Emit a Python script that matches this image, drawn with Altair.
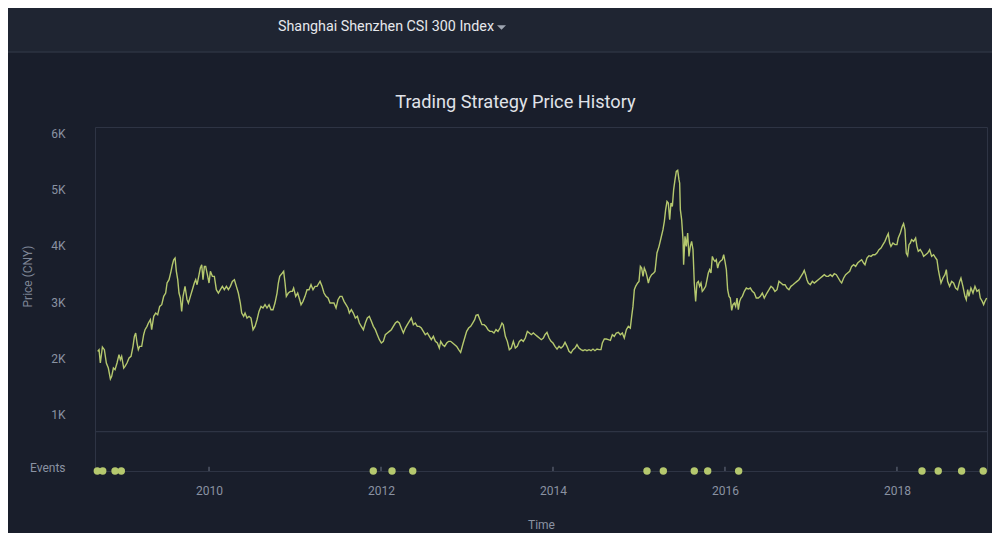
import altair as alt
import pandas as pd

# ---------------- data ----------------
header_label = "Shanghai Shenzhen CSI 300 Index"
chart_title = "Trading Strategy Price History"

# (decimal year, index level in CNY)
price_history = [
    (2008.705, 2125), (2008.721, 2155), (2008.736, 1918), (2008.760, 2202), (2008.783, 2155),
    (2008.806, 1918), (2008.829, 1829), (2008.853, 1634), (2008.868, 1681), (2008.888, 1829),
    (2008.907, 1799), (2008.930, 1918), (2008.953, 2066), (2008.969, 1977), (2008.984, 2036),
    (2009.008, 1829), (2009.023, 1859), (2009.046, 1918), (2009.070, 2007), (2009.093, 2036),
    (2009.116, 2214), (2009.132, 2391), (2009.147, 2451), (2009.163, 2273), (2009.178, 2155),
    (2009.194, 2214), (2009.217, 2214), (2009.240, 2421), (2009.256, 2510), (2009.279, 2569),
    (2009.295, 2628), (2009.318, 2687), (2009.333, 2510), (2009.357, 2747), (2009.380, 2806),
    (2009.403, 2776), (2009.426, 2924), (2009.450, 2954), (2009.473, 3102), (2009.496, 3161),
    (2009.512, 3339), (2009.535, 3398), (2009.558, 3546), (2009.574, 3664), (2009.589, 3753),
    (2009.605, 3783), (2009.620, 3546), (2009.636, 3398), (2009.651, 3161), (2009.667, 3072),
    (2009.682, 2835), (2009.698, 3102), (2009.721, 3280), (2009.744, 3043), (2009.760, 2983),
    (2009.783, 3102), (2009.806, 3220), (2009.829, 3339), (2009.845, 3398), (2009.861, 3309),
    (2009.884, 3487), (2009.899, 3605), (2009.915, 3664), (2009.930, 3398), (2009.946, 3635),
    (2009.961, 3635), (2009.985, 3457), (2010.000, 3339), (2010.016, 3546), (2010.039, 3457),
    (2010.062, 3457), (2010.085, 3220), (2010.109, 3161), (2010.132, 3220), (2010.155, 3280),
    (2010.178, 3220), (2010.202, 3280), (2010.225, 3220), (2010.248, 3280), (2010.271, 3368),
    (2010.295, 3398), (2010.318, 3280), (2010.341, 3161), (2010.364, 2983), (2010.380, 2806),
    (2010.403, 2747), (2010.419, 2806), (2010.442, 2717), (2010.465, 2747), (2010.488, 2717),
    (2010.512, 2510), (2010.535, 2569), (2010.558, 2687), (2010.581, 2835), (2010.605, 2924),
    (2010.628, 2895), (2010.651, 2954), (2010.674, 2895), (2010.698, 2954), (2010.721, 2865),
    (2010.744, 2865), (2010.767, 2983), (2010.791, 3161), (2010.806, 3339), (2010.822, 3457),
    (2010.837, 3487), (2010.853, 3516), (2010.868, 3546), (2010.884, 3339), (2010.899, 3102),
    (2010.922, 3161), (2010.946, 3191), (2010.969, 3191), (2010.984, 3250), (2011.008, 3102),
    (2011.031, 3161), (2011.054, 3043), (2011.070, 2954), (2011.093, 3013), (2011.116, 3102),
    (2011.140, 3220), (2011.163, 3220), (2011.186, 3309), (2011.209, 3220), (2011.233, 3280),
    (2011.256, 3280), (2011.279, 3339),
    (2011.291, 3368), (2011.314, 3280), (2011.337, 3161), (2011.360, 3102), (2011.384, 3072),
    (2011.407, 2983), (2011.430, 2983), (2011.453, 2983), (2011.477, 2895), (2011.500, 3043),
    (2011.523, 3102), (2011.546, 3102), (2011.570, 3013), (2011.593, 2954), (2011.616, 2895),
    (2011.632, 2806), (2011.655, 2865), (2011.678, 2806), (2011.702, 2717), (2011.725, 2747),
    (2011.748, 2628), (2011.771, 2569), (2011.795, 2510), (2011.818, 2628), (2011.841, 2717),
    (2011.864, 2747), (2011.888, 2658), (2011.911, 2569), (2011.934, 2510), (2011.957, 2421),
    (2011.981, 2332), (2012.004, 2273), (2012.027, 2303), (2012.050, 2421), (2012.074, 2451),
    (2012.097, 2480), (2012.120, 2510), (2012.143, 2569), (2012.167, 2628), (2012.190, 2658),
    (2012.213, 2628), (2012.236, 2539), (2012.260, 2451), (2012.283, 2539), (2012.306, 2599),
    (2012.329, 2658), (2012.353, 2717), (2012.376, 2599), (2012.399, 2628), (2012.422, 2569),
    (2012.446, 2569), (2012.469, 2539), (2012.492, 2480), (2012.515, 2421), (2012.539, 2451),
    (2012.562, 2391), (2012.585, 2332), (2012.609, 2391), (2012.632, 2303), (2012.655, 2273),
    (2012.678, 2184), (2012.694, 2303), (2012.717, 2243), (2012.740, 2214), (2012.764, 2273),
    (2012.787, 2303), (2012.810, 2303), (2012.833, 2273), (2012.857, 2243), (2012.880, 2214),
    (2012.903, 2155), (2012.926, 2107), (2012.950, 2243), (2012.973, 2362), (2012.996, 2480),
    (2013.019, 2539), (2013.043, 2569), (2013.066, 2628), (2013.089, 2687), (2013.105, 2764),
    (2013.128, 2776), (2013.151, 2687), (2013.174, 2599), (2013.198, 2599), (2013.221, 2569),
    (2013.244, 2510), (2013.267, 2480), (2013.291, 2480), (2013.314, 2451), (2013.337, 2510),
    (2013.360, 2480), (2013.384, 2539), (2013.407, 2628), (2013.422, 2599), (2013.446, 2391),
    (2013.469, 2303), (2013.492, 2155), (2013.515, 2184), (2013.539, 2303), (2013.562, 2184),
    (2013.585, 2214), (2013.609, 2303), (2013.632, 2332), (2013.655, 2303), (2013.678, 2362),
    (2013.702, 2480), (2013.725, 2451), (2013.748, 2421), (2013.771, 2451), (2013.795, 2421),
    (2013.818, 2391), (2013.841, 2362), (2013.864, 2332), (2013.888, 2362),
    (2013.907, 2421), (2013.930, 2462), (2013.954, 2362), (2013.977, 2303), (2014.000, 2273),
    (2014.023, 2214), (2014.047, 2166), (2014.070, 2214), (2014.093, 2184), (2014.116, 2214),
    (2014.140, 2285), (2014.163, 2214), (2014.186, 2125), (2014.209, 2095), (2014.233, 2155),
    (2014.256, 2184), (2014.279, 2243), (2014.302, 2184), (2014.326, 2155), (2014.349, 2137),
    (2014.372, 2155), (2014.395, 2137), (2014.419, 2155), (2014.442, 2137), (2014.465, 2166),
    (2014.488, 2137), (2014.512, 2166), (2014.535, 2155), (2014.558, 2155), (2014.574, 2273),
    (2014.597, 2344), (2014.620, 2344), (2014.643, 2332), (2014.667, 2320), (2014.690, 2421),
    (2014.713, 2391), (2014.736, 2451), (2014.760, 2462), (2014.783, 2421), (2014.806, 2451),
    (2014.829, 2362), (2014.853, 2510), (2014.876, 2569), (2014.899, 2539), (2014.915, 2747),
    (2014.930, 2924), (2014.946, 3220), (2014.961, 3280), (2014.984, 3339), (2015.000, 3368),
    (2015.016, 3635), (2015.031, 3605), (2015.047, 3457), (2015.062, 3605), (2015.078, 3546),
    (2015.093, 3457), (2015.109, 3339), (2015.124, 3428), (2015.147, 3487), (2015.171, 3516),
    (2015.186, 3546), (2015.209, 3872), (2015.233, 3990), (2015.256, 4138), (2015.279, 4286),
    (2015.295, 4434), (2015.310, 4641), (2015.326, 4789), (2015.341, 4760), (2015.357, 4464),
    (2015.372, 4760), (2015.388, 4700), (2015.403, 4997), (2015.419, 5174), (2015.434, 5322),
    (2015.450, 5340), (2015.465, 5174), (2015.473, 5115), (2015.481, 4641), (2015.496, 4464),
    (2015.512, 4108), (2015.519, 3664), (2015.535, 4168), (2015.550, 3990), (2015.566, 4227),
    (2015.581, 3812), (2015.597, 3990), (2015.612, 4079), (2015.628, 3931), (2015.643, 3339),
    (2015.659, 3013), (2015.674, 3339), (2015.690, 3368), (2015.705, 3280), (2015.721, 3339),
    (2015.736, 3191), (2015.752, 3220), (2015.775, 3280), (2015.791, 3398), (2015.806, 3516),
    (2015.822, 3576), (2015.837, 3516), (2015.853, 3812), (2015.868, 3753), (2015.884, 3724),
    (2015.899, 3753), (2015.915, 3605), (2015.930, 3694), (2015.946, 3724), (2015.969, 3753),
    (2015.985, 3842), (2016.000, 3724), (2016.016, 3576), (2016.031, 3220), (2016.047, 3102),
    (2016.062, 3072), (2016.078, 2853), (2016.093, 2954), (2016.109, 2983), (2016.124, 2924),
    (2016.140, 3072), (2016.155, 2865), (2016.171, 3013), (2016.186, 3072), (2016.202, 3102),
    (2016.225, 3191), (2016.248, 3250), (2016.271, 3232), (2016.295, 3250), (2016.318, 3191),
    (2016.341, 3161), (2016.364, 3072), (2016.388, 3072), (2016.411, 3102), (2016.434, 3161),
    (2016.457, 3072),
    (2016.488, 3161), (2016.512, 3220), (2016.535, 3280), (2016.558, 3250), (2016.581, 3191),
    (2016.605, 3220), (2016.628, 3368), (2016.651, 3339), (2016.674, 3309), (2016.698, 3309),
    (2016.721, 3250), (2016.744, 3220), (2016.767, 3280), (2016.791, 3309), (2016.814, 3339),
    (2016.837, 3368), (2016.860, 3398), (2016.884, 3457), (2016.907, 3516), (2016.922, 3564),
    (2016.938, 3487), (2016.953, 3398), (2016.969, 3339), (2016.992, 3309), (2017.016, 3368),
    (2017.039, 3339), (2017.062, 3368), (2017.085, 3398), (2017.109, 3428), (2017.132, 3457),
    (2017.155, 3487), (2017.178, 3457), (2017.202, 3457), (2017.225, 3487), (2017.248, 3457),
    (2017.271, 3504), (2017.295, 3487), (2017.318, 3428), (2017.341, 3368), (2017.357, 3339),
    (2017.380, 3428), (2017.403, 3487), (2017.426, 3516), (2017.450, 3546), (2017.473, 3635),
    (2017.496, 3664), (2017.519, 3635), (2017.543, 3694), (2017.566, 3724), (2017.589, 3753),
    (2017.612, 3694), (2017.628, 3664), (2017.651, 3783), (2017.674, 3824), (2017.698, 3812),
    (2017.721, 3842), (2017.744, 3842), (2017.767, 3872), (2017.791, 3931), (2017.814, 3960),
    (2017.837, 4020), (2017.860, 4079), (2017.884, 4168), (2017.899, 4215), (2017.915, 4049),
    (2017.930, 3990), (2017.953, 4049), (2017.977, 4020), (2018.000, 4020), (2018.015, 4138),
    (2018.039, 4227), (2018.062, 4345), (2018.077, 4393), (2018.093, 4286), (2018.108, 3872),
    (2018.124, 3824), (2018.140, 4020), (2018.155, 4049), (2018.170, 4108), (2018.194, 4079),
    (2018.217, 4138), (2018.232, 3990), (2018.248, 3901), (2018.271, 3931), (2018.295, 3872),
    (2018.310, 3812), (2018.333, 3842), (2018.357, 3872), (2018.380, 3931), (2018.403, 3812),
    (2018.426, 3842), (2018.450, 3783), (2018.465, 3753), (2018.481, 3576), (2018.496, 3457),
    (2018.512, 3339), (2018.535, 3428), (2018.558, 3487), (2018.574, 3576), (2018.589, 3368),
    (2018.612, 3280), (2018.636, 3368), (2018.659, 3339), (2018.682, 3250), (2018.705, 3220),
    (2018.729, 3368), (2018.744, 3428), (2018.767, 3280), (2018.791, 3102), (2018.806, 3043),
    (2018.822, 3220), (2018.837, 3102), (2018.860, 3250), (2018.884, 3161), (2018.907, 3280),
    (2018.930, 3191), (2018.953, 3220), (2018.969, 3072), (2018.992, 3013), (2019.008, 2954),
    (2019.023, 3013), (2019.043, 3072),
]

# trading events (decimal year)
event_times = [2008.701, 2008.764, 2008.907, 2008.980, 2011.910, 2012.128, 2012.369,
               2015.093, 2015.283, 2015.643, 2015.799, 2016.159, 2018.291, 2018.480,
               2018.752, 2019.003]

year_ticks = [2010, 2012, 2014, 2016, 2018]
price_ticks = [1000, 2000, 3000, 4000, 5000, 6000]
events_row_value = 0          # events sit on the time axis line
events_label_value = 70       # where the "Events" row label is written
separator_value = 700         # lower edge of the price panel
tick_height_value = 75        # small year ticks on the events line
x_domain = [2008.674, 2019.047]
y_domain = [0, 6110]

# ---------------- styling ----------------
BG = "#191e2b"
HEADER_BG = "#1f2532"
HEADER_BORDER = "#2c3342"
FRAME = "#2e3444"
LINE = "#b5c86e"
LABEL = "#8a92a2"
TITLE = "#e0e3e9"
FONT = "Roboto"
CARET_PATH = "M-1,-0.5L1,-0.5L0,0.5Z"

price_df = pd.DataFrame(price_history, columns=["t", "v"])
events_df = pd.DataFrame({"t": event_times, "v": [events_row_value] * len(event_times)})
ticks_df = pd.DataFrame({"t": year_ticks, "v": [events_row_value] * len(year_ticks),
                         "v2": [tick_height_value] * len(year_ticks)})
sep_df = pd.DataFrame({"v": [separator_value]})
text_df = pd.DataFrame({"label": [header_label], "title": [chart_title]})

x_enc = alt.X(
    "t:Q",
    scale=alt.Scale(domain=x_domain, nice=False, zero=False),
    axis=alt.Axis(
        title="Time", values=year_ticks, format="d", grid=False, ticks=False, tickSize=0,
        labelPadding=14, labelColor=LABEL, labelFontSize=12, labelFont=FONT,
        domainColor=FRAME, titleColor=LABEL, titleFontSize=12, titleFont=FONT,
        titleFontWeight="normal", titleY=53, titleBaseline="middle",
    ),
)
y_enc = alt.Y(
    "v:Q",
    scale=alt.Scale(domain=y_domain, nice=False, zero=False),
    axis=alt.Axis(
        title="Price (CNY)", values=[events_label_value] + price_ticks,
        labelExpr="datum.value < 500 ? 'Events' : (datum.value / 1000) + 'K'",
        grid=False, ticks=False, domain=False, labelPadding=30,
        labelColor=LABEL, labelFontSize=12, labelFont=FONT,
        titleColor="#7d8595", titleFontSize=12, titleFont=FONT, titleFontWeight="normal",
        titleX=-68, titleY=149, titleAngle=270, titleBaseline="middle", titleAlign="center",
    ),
)

header_band = alt.Chart(text_df).mark_rect(fill=HEADER_BG).encode(
    x=alt.value(-87), x2=alt.value(897), y=alt.value(-119), y2=alt.value(-75)
)
header_line = alt.Chart(text_df).mark_rule(color=HEADER_BORDER, strokeWidth=1.5).encode(
    x=alt.value(-87), x2=alt.value(897), y=alt.value(-75)
)
header_text = alt.Chart(text_df).mark_text(
    align="left", baseline="middle", fontSize=14.3, font=FONT, color="#e6e8ec"
).encode(text="label:N", x=alt.value(183), y=alt.value(-100))
header_caret = alt.Chart(text_df).mark_point(
    shape=CARET_PATH, filled=True, size=81, opacity=1, color="#9ea5b1", strokeWidth=0
).encode(x=alt.value(406.5), y=alt.value(-99.5))
title_text = alt.Chart(text_df).mark_text(
    align="center", baseline="middle", fontSize=18.2, font=FONT, color=TITLE
).encode(text="title:N", x=alt.value(420.5), y=alt.value(-24))

separator = alt.Chart(sep_df).mark_rule(color=FRAME, strokeWidth=1.2).encode(y=y_enc)
year_tick_marks = alt.Chart(ticks_df).mark_rule(color="#6b7283").encode(
    x=x_enc, y=y_enc, y2="v2:Q"
)
price_line = alt.Chart(price_df).mark_line(color=LINE, strokeWidth=1.4).encode(x=x_enc, y=y_enc)
event_dots = alt.Chart(events_df).mark_circle(size=55, opacity=1, color=LINE).encode(x=x_enc, y=y_enc)

chart = alt.layer(
    header_band, header_line, header_text, header_caret, title_text,
    separator, year_tick_marks, price_line, event_dots,
).properties(
    width=892,
    height=344,
    autosize=alt.AutoSizeParams(type="none"),
    padding={"left": 87, "top": 119, "right": 5, "bottom": 62},
).configure(
    background=BG,
    font=FONT,
).configure_view(
    stroke=FRAME,
    strokeWidth=1,
)

chart.save("out.html", embed_options={"renderer": "svg", "actions": False})
